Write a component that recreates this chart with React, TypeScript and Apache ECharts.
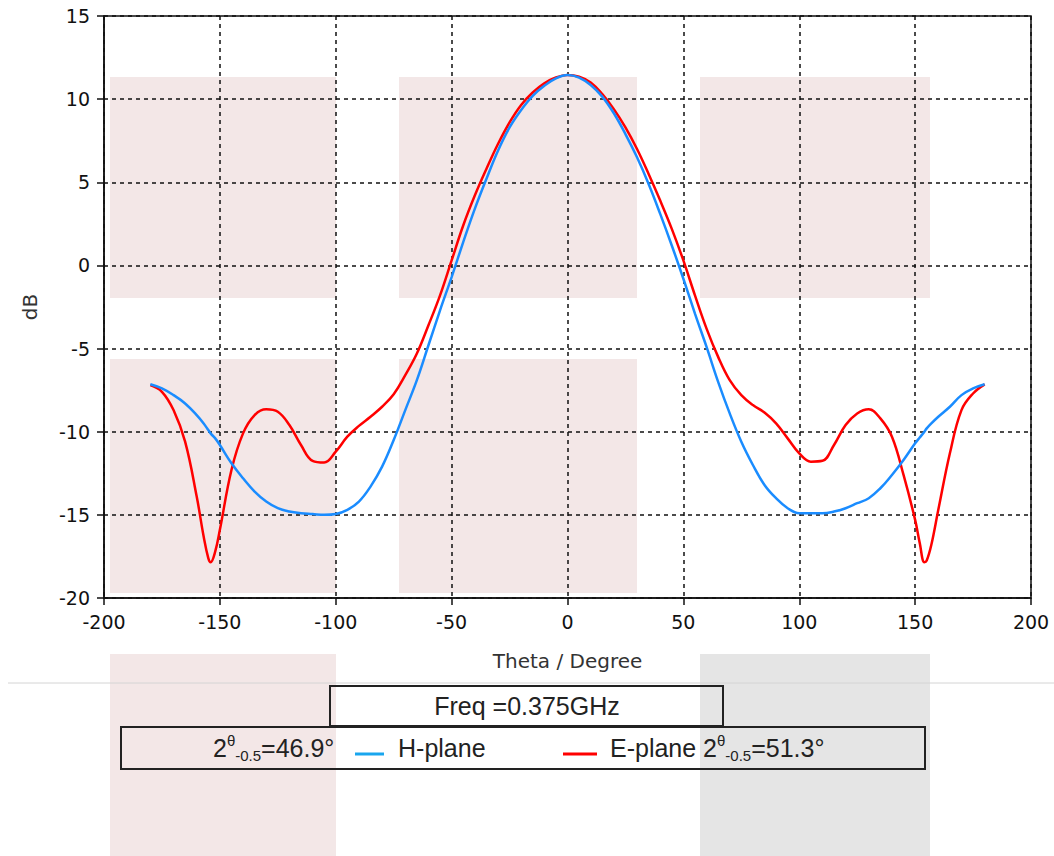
import React, { useEffect, useRef } from "react";
import * as echarts from "echarts";

const thetaDeg = [
  -180, -175, -170, -165, -160, -157, -155, -154, -152, -150, -145, -140, -135, -130, -125, -120, -115, -110, -105,
  -100, -95, -90, -85, -80, -75, -70, -65, -60, -55, -50, -45, -40, -35, -30, -25, -20, -15, -10, -5,
  0, 5, 10, 15, 20, 25, 30, 35, 40, 45, 50, 55, 60, 65, 70, 75, 80, 85, 90, 95,
  100, 105, 110, 115, 120, 125, 130, 135, 140, 145, 150, 152, 154, 155, 157, 160, 165, 170, 175, 180,
];

const ePlane = [
  -7.2, -7.6, -8.7, -10.6, -13.9, -16.3, -17.6, -17.85, -17.2, -15.9, -12.3, -10.1, -9.0, -8.65, -8.8, -9.6, -10.8, -11.75, -11.85,
  -11.2, -10.3, -9.65, -9.1, -8.5, -7.75, -6.6, -5.3, -3.6, -1.8, 0.3, 2.4, 4.2, 5.8, 7.3, 8.6, 9.65, 10.4, 10.95, 11.3,
  11.45, 11.35, 11.0, 10.3, 9.4, 8.3, 7.0, 5.5, 3.9, 2.2, 0.3, -1.8, -3.8, -5.5, -6.9, -7.8, -8.4, -8.85, -9.5, -10.4,
  -11.3, -11.8, -11.75, -10.8, -9.6, -8.9, -8.65, -9.2, -10.3, -12.6, -15.3, -16.7, -17.85, -17.75, -16.8, -14.7, -11.3, -8.7, -7.7, -7.15,
];

const hPlane = [
  -7.15, -7.4, -7.8, -8.3, -9.0, -9.5, -9.9, -10.1, -10.4, -10.8, -11.9, -12.8, -13.6, -14.2, -14.6, -14.8, -14.9, -14.95, -15.0,
  -14.95, -14.7, -14.2, -13.3, -12.1, -10.5, -8.7, -6.9, -4.8, -2.7, -0.7, 1.4, 3.4, 5.2, 6.9, 8.3, 9.35, 10.2, 10.8, 11.25,
  11.45, 11.3, 10.85, 10.15, 9.15, 7.9, 6.5, 4.9, 3.1, 1.2, -0.8, -2.9, -4.9, -7.0, -8.9, -10.6, -12.0, -13.2, -14.0, -14.6,
  -14.9, -14.9, -14.9, -14.8, -14.6, -14.3, -14.0, -13.4, -12.6, -11.7, -10.7, -10.35, -10.0, -9.8, -9.5, -9.1, -8.5, -7.8, -7.4, -7.15,
];

const xRange = { min: -200, max: 200, interval: 50 };
const yRange = { min: -20, max: 15, interval: 5 };

const xTitle = "Theta / Degree";
const yTitle = "dB";
const freqLabel = "Freq =0.375GHz";
const hLabel = "H-plane";
const eLabel = "E-plane";
const hBeam = "46.9°";
const eBeam = "51.3°";

const TICK_FONT = "'DejaVu Sans', Verdana, sans-serif";
const LEG_FONT = "'Liberation Sans', Arial, sans-serif";

export default function App() {
  const ref = useRef<HTMLDivElement>(null);

  useEffect(() => {
    if (!ref.current) return;
    const chart = echarts.init(ref.current, null, { renderer: "svg" });

    const axisCommon = {
      type: "value" as const,
      nameLocation: "middle" as const,
      nameTextStyle: { fontFamily: TICK_FONT, fontSize: 20, color: "#333" },
      axisLine: { show: true, onZero: false, lineStyle: { color: "#111", width: 1.5 } },
      axisTick: { show: true, length: 7, lineStyle: { color: "#111", width: 1.5 } },
      axisLabel: { fontFamily: TICK_FONT, fontSize: 19, color: "#111" },
      splitLine: { show: true, lineStyle: { type: [4, 4], color: "#111", width: 1.5 } },
    };

    const pink = "#f3e7e7";
    const bgRects = [
      [110, 77, 226, 221, pink],
      [399, 77, 238, 221, pink],
      [700, 77, 230, 221, pink],
      [110, 359, 226, 234, pink],
      [399, 359, 238, 234, pink],
      [110, 654, 226, 202, pink],
      [700, 654, 230, 202, "#e5e5e5"],
    ].map(([x, y, w, h, c]) => ({
      type: "rect",
      z: -10,
      silent: true,
      shape: { x, y, width: w, height: h },
      style: { fill: c },
    }));

    const richStyles = {
      sup: { fontFamily: LEG_FONT, fontSize: 15, color: "#222", verticalAlign: "top", lineHeight: 15 },
      sub: { fontFamily: LEG_FONT, fontSize: 15, color: "#222", verticalAlign: "bottom", lineHeight: 15 },
    };

    const legText = (x: number, text: string) => ({
      type: "text",
      x,
      y: 748,
      z: 20,
      style: {
        text,
        font: `25px ${LEG_FONT}`,
        fill: "#222",
        textAlign: "left",
        textVerticalAlign: "middle",
        align: "left",
        verticalAlign: "middle",
        lineHeight: 30,
        rich: richStyles,
      },
    });

    chart.setOption({
      animation: false,
      backgroundColor: "#ffffff",
      grid: {
        left: 104,
        right: 23,
        top: 16,
        bottom: 258,
        show: true,
        borderColor: "#111",
        borderWidth: 1.5,
        backgroundColor: "transparent",
      },
      xAxis: {
        ...axisCommon,
        min: xRange.min,
        max: xRange.max,
        interval: xRange.interval,
        name: xTitle,
        nameGap: 53,
        axisLabel: { ...axisCommon.axisLabel, margin: 14 },
      },
      yAxis: {
        ...axisCommon,
        min: yRange.min,
        max: yRange.max,
        interval: yRange.interval,
        name: yTitle,
        nameGap: 64,
        axisLabel: { ...axisCommon.axisLabel, margin: 14 },
      },
      series: [
        {
          name: eLabel,
          type: "line",
          data: thetaDeg.map((t, i) => [t, ePlane[i]]),
          showSymbol: false,
          smooth: 0.4,
          lineStyle: { color: "#ff0000", width: 2.5 },
          itemStyle: { color: "#ff0000" },
          z: 3,
        },
        {
          name: hLabel,
          type: "line",
          data: thetaDeg.map((t, i) => [t, hPlane[i]]),
          showSymbol: false,
          smooth: 0.4,
          lineStyle: { color: "#1a8cff", width: 2.5 },
          itemStyle: { color: "#1a8cff" },
          z: 4,
        },
      ],
      graphic: [
        ...bgRects,
        {
          type: "line",
          z: 5,
          shape: { x1: 8, y1: 683, x2: 1054, y2: 683 },
          style: { stroke: "#d4d4d4", lineWidth: 1 },
        },
        {
          type: "rect",
          z: 10,
          shape: { x: 330, y: 686, width: 393, height: 40 },
          style: { fill: "none", stroke: "#222", lineWidth: 2 },
        },
        {
          type: "rect",
          z: 10,
          shape: { x: 121, y: 727, width: 804, height: 42 },
          style: { fill: "none", stroke: "#222", lineWidth: 2 },
        },
        {
          type: "text",
          x: 527,
          y: 706,
          z: 20,
          style: {
            text: freqLabel,
            font: `25px ${LEG_FONT}`,
            fill: "#222",
            textAlign: "center",
            textVerticalAlign: "middle",
            align: "center",
            verticalAlign: "middle",
          },
        },
        legText(213, `2{sup|θ}{sub|-0.5}=${hBeam}`),
        {
          type: "line",
          z: 20,
          shape: { x1: 355, y1: 754, x2: 384, y2: 754 },
          style: { stroke: "#19a6ee", lineWidth: 3 },
        },
        legText(398, hLabel),
        {
          type: "line",
          z: 20,
          shape: { x1: 563, y1: 754, x2: 597, y2: 754 },
          style: { stroke: "#ff0000", lineWidth: 3 },
        },
        legText(610, `${eLabel} 2{sup|θ}{sub|-0.5}=${eBeam}`),
      ],
    });

    return () => chart.dispose();
  }, []);

  return (
    <div
      ref={ref}
      style={{ position: "absolute", left: 0, top: 0, width: 1054, height: 856 }}
    />
  );
}
